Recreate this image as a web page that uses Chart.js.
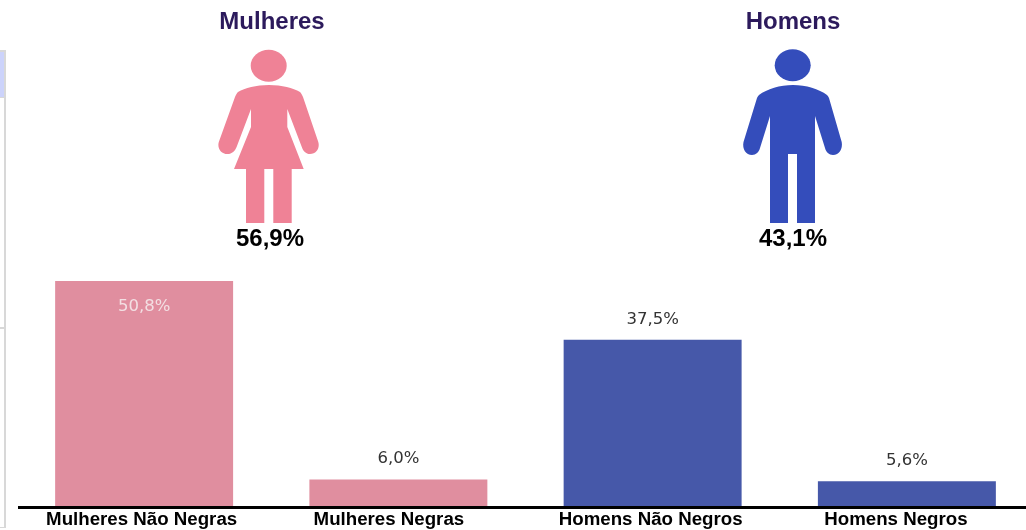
<!DOCTYPE html>
<html lang="pt">
<head>
<meta charset="utf-8">
<title>Mulheres e Homens</title>
<script src="https://cdn.jsdelivr.net/npm/chart.js@4/dist/chart.umd.min.js"></script>
<style>
  html, body { margin: 0; padding: 0; background: #fff; overflow: hidden; }
  #page { position: relative; width: 1026px; height: 530px; overflow: hidden; }
  #chart-box { position: absolute; left: 0; top: 0; width: 1040px; height: 530px; }
  .strip { position: absolute; background: #d8d8d8; }
  .person { position: absolute; top: 50px; width: 102px; height: 173px; overflow: visible; }
  .head { position: absolute; text-align: center; font-family: "Liberation Sans", Arial, sans-serif; font-weight: 700; }
  .title { top: 8px; width: 200px; font-size: 24px; line-height: 26px; color: #2c1a5c; }
  .share { top: 224px; width: 200px; font-size: 24px; line-height: 27px; color: #000; }
</style>
</head>
<body>
<div id="page">
  <div class="strip" style="left:0;top:50px;width:6px;height:2px"></div>
  <div class="strip" style="left:0;top:52px;width:4px;height:45px;background:#ccd3fb"></div>
  <div class="strip" style="left:0;top:97px;width:4px;height:1px"></div>
  <div class="strip" style="left:4px;top:50px;width:2px;height:478px"></div>
  <div class="strip" style="left:0;top:327px;width:4px;height:2px"></div>
  <div class="strip" style="left:0;top:527px;width:4px;height:1px"></div>

  <div id="chart-box"><canvas id="bars"></canvas></div>

  <div class="head title" style="left:172px">Mulheres</div>
  <svg class="person" style="left:218px" viewBox="0 0 102 173">
    <ellipse cx="50.7" cy="15.7" rx="18" ry="16" fill="#ef8296"/>
    <path fill="#ef8296" d="M51 35 C38 35 27 38 20 42 C18.7 43 18 45 17 47 L0.8 92 C-1 98 3 104 9.5 104 C14 104 17 101 18.7 96.7 L33 59 L33 77 L16 119 L28 119 L28 173 L46.3 173 L46.3 119 L55.3 119 L55.3 173 L73.7 173 L73.7 119 L85.7 119 L69.3 77 L69.3 59 L83.7 96.7 C85 101 88 104 92 104 C98.5 104 102 98 100.3 92 L85 47 C84 45 83.3 43 82 42 C75 38 64 35 51 35 Z"/>
  </svg>
  <div class="head share" style="left:170px" id="share-0"></div>

  <div class="head title" style="left:693px">Homens</div>
  <svg class="person" style="left:742px" viewBox="0 0 102 173">
    <ellipse cx="50.7" cy="15.3" rx="18" ry="16" fill="#344dbb"/>
    <path fill="#344dbb" d="M51 35 C38 35 25 39 17 45 C16 46 15.5 47 15 48 L1.5 92 C0 99 4 105 10 105 C14 105 17 102 18 98 L28 66 L28 173 L46 173 L46 104 L55 104 L55 173 L73 173 L73 66 L83 98 C84 102 87 105 91 105 C97 105 101 99 99.7 92 L87 48 C86.5 47 86 46 85 45 C77 39 64 35 51 35 Z"/>
  </svg>
  <div class="head share" style="left:693px" id="share-1"></div>
</div>

<script>
const categories = ['Mulheres Não Negras', 'Mulheres Negras', 'Homens Não Negros', 'Homens Negros'];
const values = [50.8, 6.0, 37.5, 5.6];
const shares = [56.9, 43.1];

const barColors = ['#e08e9f', '#e08e9f', '#4658a9', '#4658a9'];
const labelColors = ['#f3dfe3', '#333333', '#333333', '#333333'];
// the category names sit a little left of their bars in the original
const nameShift = [-2.5, -9.5, -2, -11];

const fmt = v => v.toFixed(1).replace('.', ',') + '%';

shares.forEach((v, i) => {
  document.getElementById('share-' + i).textContent = fmt(v);
});

const barLabels = {
  id: 'barLabels',
  afterDatasetsDraw(chart) {
    const ctx = chart.ctx;
    const meta = chart.getDatasetMeta(0);
    const baseY = chart.scales.y.getPixelForValue(0);
    ctx.save();
    ctx.textAlign = 'center';
    ctx.textBaseline = 'middle';
    meta.data.forEach((bar, i) => {
      // value: inside the tallest bar, above the others
      const inside = values[i] === Math.max(...values);
      ctx.font = '16.5px "DejaVu Sans", sans-serif';
      ctx.fillStyle = labelColors[i];
      ctx.fillText(fmt(values[i]), bar.x, inside ? bar.y + 25.5 : bar.y - 20.5);
      // category name
      ctx.font = 'bold 18.7px "Liberation Sans", Arial, sans-serif';
      ctx.fillStyle = '#000';
      ctx.fillText(categories[i], bar.x + nameShift[i], baseY + 14);
    });
    ctx.restore();
  },
};

// axis rule starts at the plot edge and runs off the right side
const baseLine = {
  id: 'baseLine',
  afterDatasetsDraw(chart) {
    const ctx = chart.ctx;
    const y = chart.scales.y.getPixelForValue(0);
    ctx.save();
    ctx.fillStyle = '#000';
    ctx.fillRect(18, y, chart.width, 3);
    ctx.restore();
  },
};

new Chart(document.getElementById('bars'), {
  type: 'bar',
  data: {
    labels: categories,
    datasets: [{
      data: values,
      backgroundColor: barColors,
      categoryPercentage: 0.7,
      barPercentage: 1,
    }],
  },
  options: {
    responsive: true,
    maintainAspectRatio: false,
    animation: false,
    layout: { padding: { left: 17, right: 6, top: 0, bottom: 16 } },
    scales: {
      x: {
        grid: { display: false },
        border: { display: false },
        ticks: { display: false },
      },
      y: {
        display: false,
        min: 0,
        max: 114.2,
      },
    },
    plugins: {
      legend: { display: false },
      tooltip: { enabled: false },
    },
  },
  plugins: [barLabels, baseLine],
});
</script>
</body>
</html>
